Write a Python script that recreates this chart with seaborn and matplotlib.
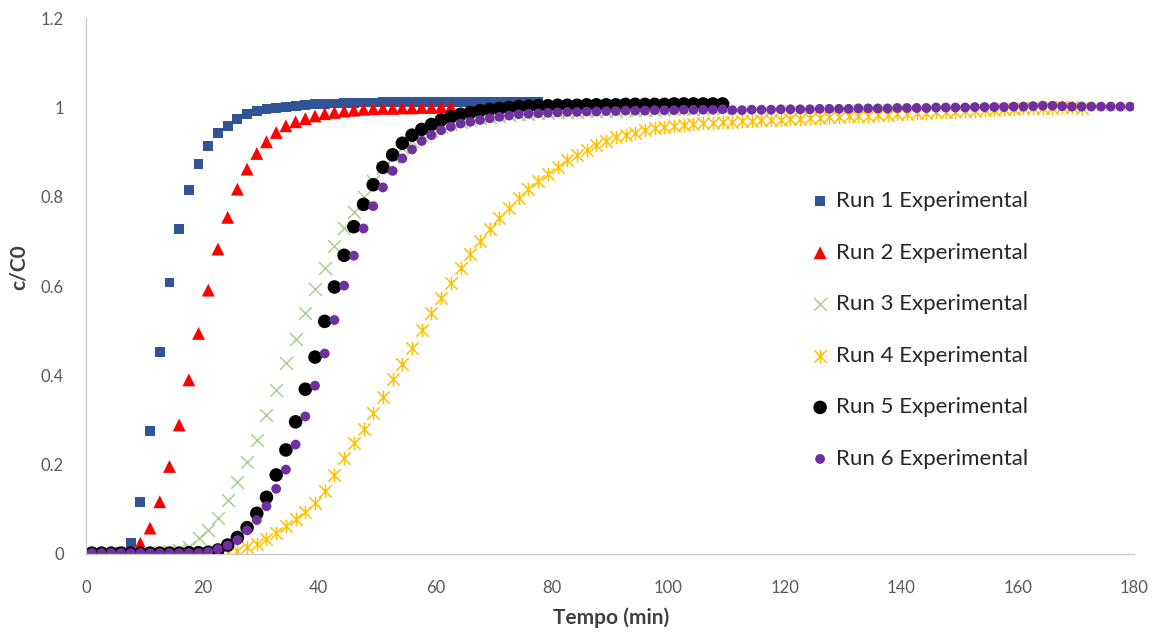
import numpy as np
import pandas as pd
import matplotlib
matplotlib.use("Agg")
import matplotlib.pyplot as plt
from matplotlib.path import Path
import seaborn as sns

# One reading every 100 s, first reading at 1 min
T_START = 1.0
T_STEP = 100 / 60

run1 = [0.000, 0.001, 0.002, 0.004, 0.024, 0.117, 0.276, 0.452, 0.608, 0.728,
        0.815, 0.873, 0.914, 0.942, 0.959, 0.974, 0.985, 0.992, 0.996, 0.999,
        1.002, 1.004, 1.006, 1.007, 1.008, 1.009, 1.010, 1.010, 1.011, 1.011,
        1.012, 1.012, 1.012, 1.012, 1.013, 1.013, 1.013, 1.013, 1.013, 1.013,
        1.013, 1.013, 1.012, 1.012, 1.012, 1.012, 1.012]

run2 = [0.000, 0.000, 0.001, 0.002, 0.005, 0.024, 0.058, 0.117, 0.196, 0.289,
        0.390, 0.494, 0.591, 0.683, 0.754, 0.817, 0.862, 0.897, 0.923, 0.944,
        0.959, 0.968, 0.975, 0.981, 0.986, 0.989, 0.992, 0.994, 0.996, 0.997,
        0.998, 0.998, 0.999, 0.999, 1.000, 1.000, 1.001, 1.001]

run3 = [0.000, 0.000, 0.001, 0.001, 0.002, 0.002, 0.003, 0.004, 0.006, 0.009,
        0.016, 0.035, 0.054, 0.080, 0.121, 0.162, 0.207, 0.255, 0.311, 0.367,
        0.427, 0.481, 0.539, 0.593, 0.641, 0.690, 0.731, 0.765, 0.800, 0.835,
        0.865, 0.890, 0.910, 0.925, 0.938, 0.948, 0.956, 0.963, 0.968, 0.972,
        0.976, 0.979, 0.981, 0.983, 0.985, 0.986, 0.987, 0.988, 0.989, 0.990,
        0.991, 0.992, 0.992, 0.993, 0.993, 0.994, 0.994, 0.995, 0.995, 0.996,
        0.996, 0.997, 0.997, 0.997, 0.998, 0.998]

run4 = [0.000, 0.000, 0.000, 0.000, 0.000, 0.000, 0.000, 0.000, 0.000, 0.000,
        0.000, 0.000, 0.001, 0.001, 0.002, 0.007, 0.015, 0.023, 0.034, 0.048,
        0.063, 0.078, 0.095, 0.115, 0.140, 0.176, 0.214, 0.249, 0.281, 0.316,
        0.352, 0.391, 0.426, 0.462, 0.501, 0.540, 0.574, 0.606, 0.640, 0.671,
        0.701, 0.728, 0.752, 0.775, 0.797, 0.818, 0.835, 0.852, 0.867, 0.882,
        0.894, 0.905, 0.917, 0.926, 0.933, 0.939, 0.944, 0.949, 0.953, 0.956,
        0.959, 0.961, 0.963, 0.965, 0.966, 0.967, 0.968, 0.969, 0.970, 0.971,
        0.972, 0.973, 0.974, 0.975, 0.976, 0.977, 0.978, 0.979, 0.980, 0.981,
        0.982, 0.983, 0.984, 0.985, 0.986, 0.987, 0.988, 0.989, 0.990, 0.991,
        0.992, 0.993, 0.994, 0.995, 0.996, 0.997, 0.998, 0.999, 1.000, 1.000,
        1.001, 1.001, 1.000]

run5 = [0.002, 0.002, 0.002, 0.002, 0.002, 0.002, 0.002, 0.002, 0.002, 0.002,
        0.003, 0.003, 0.004, 0.009, 0.020, 0.037, 0.059, 0.091, 0.127, 0.177,
        0.233, 0.296, 0.369, 0.441, 0.521, 0.598, 0.669, 0.733, 0.783, 0.827,
        0.866, 0.894, 0.920, 0.938, 0.951, 0.962, 0.972, 0.979, 0.985, 0.989,
        0.993, 0.996, 0.998, 1.000, 1.002, 1.003, 1.004, 1.004, 1.005, 1.005,
        1.005, 1.006, 1.006, 1.006, 1.006, 1.007, 1.007, 1.007, 1.007, 1.007,
        1.008, 1.008, 1.008, 1.008, 1.008, 1.008]

run6 = [0.002, 0.002, 0.002, 0.002, 0.002, 0.002, 0.002, 0.002, 0.002, 0.002,
        0.002, 0.002, 0.005, 0.011, 0.019, 0.031, 0.053, 0.076, 0.107, 0.146,
        0.189, 0.245, 0.308, 0.377, 0.449, 0.524, 0.601, 0.668, 0.729, 0.779,
        0.821, 0.858, 0.886, 0.906, 0.925, 0.938, 0.949, 0.957, 0.964, 0.968,
        0.972, 0.976, 0.979, 0.982, 0.985, 0.986, 0.987, 0.988, 0.989, 0.990,
        0.990, 0.991, 0.991, 0.992, 0.992, 0.993, 0.993, 0.993, 0.994, 0.994,
        0.994, 0.995, 0.995, 0.995, 0.995, 0.996, 0.994, 0.994, 0.995, 0.995,
        0.995, 0.996, 0.996, 0.996, 0.996, 0.997, 0.997, 0.997, 0.997, 0.998,
        0.998, 0.998, 0.998, 0.999, 0.999, 0.999, 0.999, 1.000, 1.000, 1.000,
        1.000, 1.001, 1.001, 1.001, 1.001, 1.002, 1.002, 1.003, 1.004, 1.004,
        1.003, 1.002, 1.002, 1.002, 1.002, 1.002, 1.002, 1.002]

RUN_LABELS = ["Run 1 Experimental", "Run 2 Experimental", "Run 3 Experimental",
              "Run 4 Experimental", "Run 5 Experimental", "Run 6 Experimental"]
RUN_VALUES = [run1, run2, run3, run4, run5, run6]

X_TICKS = [0, 20, 40, 60, 80, 100, 120, 140, 160, 180]
Y_TICKS = [0, 0.2, 0.4, 0.6, 0.8, 1.0, 1.2]
Y_TICK_LABELS = ["0", "0.2", "0.4", "0.6", "0.8", "1", "1.2"]

sns.set_theme(style="white")
plt.rcParams["font.family"] = ["Lato", "DejaVu Sans"]

frames = []
for label, vals in zip(RUN_LABELS, RUN_VALUES):
    t = T_START + T_STEP * np.arange(len(vals))
    frames.append(pd.DataFrame({"tempo": t, "c_c0": vals, "run": label}))
data = pd.concat(frames, ignore_index=True)

W, H = 1166, 633
fig = plt.figure(figsize=(W / 100, H / 100), dpi=100)
ax = fig.add_axes([86 / W, 79 / H, 1048 / W, 535.8 / H])

# six-armed star: an "x" plus a vertical stroke
star = Path([(-0.5, -0.5), (0.5, 0.5), (-0.5, 0.5), (0.5, -0.5), (0, -0.55), (0, 0.55)],
            [Path.MOVETO, Path.LINETO] * 3)

styles = {
    "Run 1 Experimental": dict(marker="s", s=50, color="#2F5597", edgecolor="none", linewidth=0),
    "Run 2 Experimental": dict(marker="^", s=85, color="#FF0000", edgecolor="none", linewidth=0),
    "Run 3 Experimental": dict(marker="x", s=85, color="#A9D18E", linewidth=1.1),
    "Run 4 Experimental": dict(marker=star, s=95, color="#FFC000", edgecolor="#FFC000", linewidth=1.1),
    "Run 5 Experimental": dict(marker="o", s=95, color="#000000", edgecolor="none", linewidth=0),
    "Run 6 Experimental": dict(marker="o", s=50, color="#7030A0", edgecolor="none", linewidth=0),
}

for label in RUN_LABELS:
    sub = data[data["run"] == label]
    sns.scatterplot(data=sub, x="tempo", y="c_c0", ax=ax, label=label, **styles[label])

ax.set_xlim(0, 180)
ax.set_ylim(0, 1.2)
ax.set_xticks(X_TICKS)
ax.set_xticklabels([str(v) for v in X_TICKS])
ax.set_yticks(Y_TICKS)
ax.set_yticklabels(Y_TICK_LABELS)
ax.tick_params(axis="both", length=0, labelsize=12, labelcolor="#595959")
ax.tick_params(axis="x", pad=18.5)
ax.tick_params(axis="y", pad=16)

for side in ("top", "right"):
    ax.spines[side].set_visible(False)
for side in ("left", "bottom"):
    ax.spines[side].set_color("#C8C8C8")
    ax.spines[side].set_linewidth(0.9)
ax.grid(False)

ax.set_xlabel("Tempo (min)", fontsize=15, fontweight="bold", color="#404040")
ax.set_ylabel("c/C0", fontsize=15, fontweight="bold", color="#404040")
ax.xaxis.set_label_coords(0.501, -0.100)
ax.yaxis.set_label_coords(-0.055, 0.535)

leg = ax.legend(loc="upper left", bbox_to_anchor=(809 / W, 1 - 191 / H),
                bbox_transform=fig.transFigure, frameon=False, fontsize=16,
                borderpad=0, handlelength=1.0, handletextpad=0.2,
                labelspacing=1.42, borderaxespad=0)
for txt in leg.get_texts():
    txt.set_color("#262626")

fig.savefig("out.png", dpi=100)
